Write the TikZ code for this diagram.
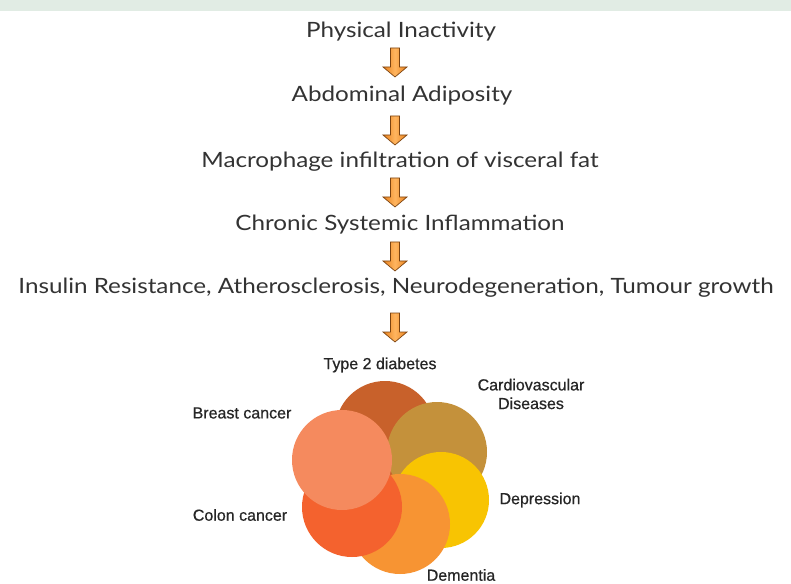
\documentclass[tikz,border=0pt]{standalone}
\usepackage{fontspec}
\setmainfont{Lato}[FakeStretch=1.15]
\newfontfamily\lblfont{Liberation Sans}[FakeBold=0.6]
\definecolor{txt}{HTML}{333333}
\definecolor{arrdark}{HTML}{E8801A}
\definecolor{arrlight}{HTML}{FFB560}
\definecolor{arredge}{HTML}{7A4210}
\definecolor{cT}{HTML}{C8612B}
\definecolor{cC}{HTML}{C4913B}
\definecolor{cD}{HTML}{F8C402}
\definecolor{cM}{HTML}{F79433}
\definecolor{cO}{HTML}{F4622E}
\definecolor{cB}{HTML}{F58A5E}
\definecolor{band}{HTML}{E1ECE4}
\tikzset{
  steptext/.style={text=txt,font=\fontsize{15.8}{18}\selectfont,inner sep=0pt},
  flowarrow/.style={draw=arredge,line width=0.5pt,line join=miter,
    left color=arrdark,right color=arrdark,middle color=arrlight},
  lbl/.style={text=black!85,font=\lblfont\fontsize{12}{14}\selectfont,inner sep=0pt,align=center},
  petal/.style={circle,minimum size=75pt,inner sep=0pt},
}
\newcommand{\blockarrow}[1]{%
  \path[flowarrow] ([shift={(-4.5,-14)}]#1) -- ([shift={(4.5,-14)}]#1) -- ([shift={(4.5,5)}]#1)
    -- ([shift={(12,5)}]#1) -- ([shift={(0,15)}]#1) -- ([shift={(-12,5)}]#1)
    -- ([shift={(-4.5,5)}]#1) -- cycle;}
\begin{document}
\begin{tikzpicture}[x=0.75pt,y=-0.75pt]
\useasboundingbox (0,0) rectangle (791,584);
\fill[white] (0,0) rectangle (791,584);
\fill[band] (0,0) rectangle (791,11);
% flow
\node[steptext] (s1) at (401,32) {Physical Inactivity};
\node[steptext] (s2) at (402,96) {Abdominal Adiposity};
\node[steptext] (s3) at (400,162) {Macrophage infiltration of visceral fat};
\node[steptext] (s4) at (400,225) {Chronic Systemic Inflammation};
\node[steptext] (s5) at (396,288) {Insulin Resistance, Atherosclerosis, Neurodegeneration, Tumour growth};
\coordinate (a1) at (395,62);
\coordinate (a2) at (395,130);
\coordinate (a3) at (395,192);
\coordinate (a4) at (395,256);
\coordinate (a5) at (395,327);
\blockarrow{a1}
\blockarrow{a2}
\blockarrow{a3}
\blockarrow{a4}
\blockarrow{a5}
% petals
\node[petal,fill=cT] (pT) at (385,431) {};
\node[petal,fill=cC] (pC) at (437,452) {};
\node[petal,fill=cD,minimum size=72pt] (pD) at (441,500) {};
\node[petal,fill=cM] (pM) at (400,524) {};
\node[petal,fill=cO] (pO) at (352,507) {};
\node[petal,fill=cB] (pB) at (342,460) {};
% labels
\node[lbl] (lT) at (380,365) {Type 2 diabetes};
\node[lbl] (lC) at (531,394) {Cardiovascular\\Diseases};
\node[lbl] (lB) at (242,413) {Breast cancer};
\node[lbl] (lD) at (540,500) {Depression};
\node[lbl] (lO) at (240,515) {Colon cancer};
\node[lbl] (lM) at (461,575) {Dementia};
\end{tikzpicture}
\end{document}
